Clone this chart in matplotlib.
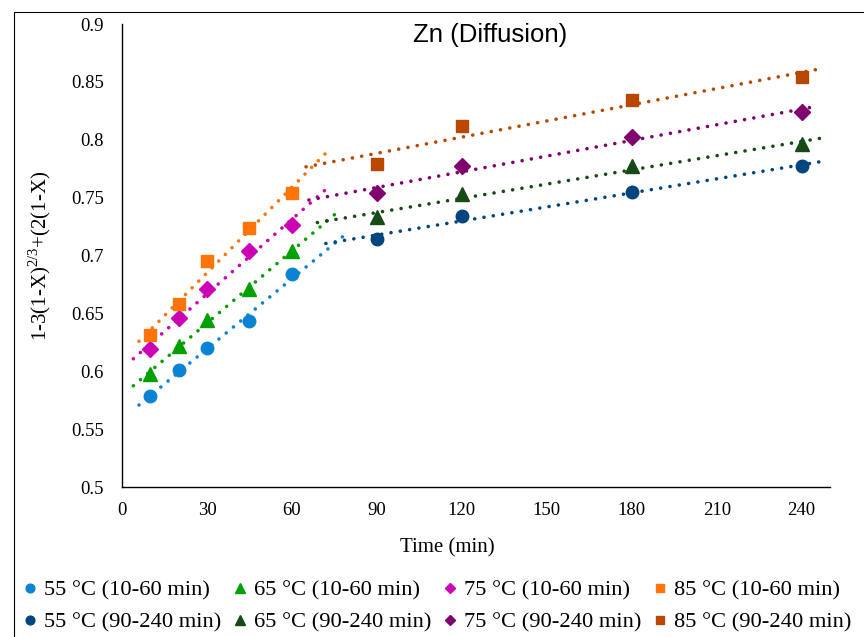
import numpy as np
import matplotlib
matplotlib.use("Agg")
import matplotlib.pyplot as plt
from matplotlib.patches import Rectangle
from matplotlib.ticker import FormatStrFormatter

# data
t_early = [10, 20, 30, 45, 60]
t_late = [90, 120, 180, 240]

y55_early = [0.579, 0.601, 0.620, 0.643, 0.684]
y65_early = [0.598, 0.622, 0.644, 0.671, 0.704]
y75_early = [0.619, 0.646, 0.671, 0.704, 0.726]
y85_early = [0.631, 0.658, 0.695, 0.724, 0.754]

y55_late = [0.714, 0.734, 0.755, 0.777]
y65_late = [0.733, 0.753, 0.777, 0.796]
y75_late = [0.754, 0.777, 0.802, 0.824]
y85_late = [0.779, 0.812, 0.834, 0.854]

temps = ["55", "65", "75", "85"]
markers = ["o", "^", "D", "s"]
msizes = [9, 10, 8, 8.5]
col_early = ["#0A84D2", "#00A000", "#CC00B4", "#FF7408"]
col_late = ["#00457F", "#174A17", "#80006E", "#B84800"]
# trendline extents (forecast) for each fit
ext_early = [(6, 78), (4, 75), (4, 72), (6, 72)]
ext_late = [(72, 247), (69, 247), (66, 246), (65, 245)]

early = [y55_early, y65_early, y75_early, y85_early]
late = [y55_late, y65_late, y75_late, y85_late]

plt.rcParams['font.family'] = ['Liberation Serif', 'DejaVu Serif']
plt.rcParams['mathtext.fontset'] = 'custom'
plt.rcParams['mathtext.rm'] = 'Liberation Serif'

fig = plt.figure(figsize=(8.64, 6.37), dpi=100)
ax = fig.add_axes([122/864, 1-487/637, (830-122)/864, (487-24)/637])

def trend(x, y, ext, color):
    k, b = np.polyfit(x, y, 1)
    xx = np.array(ext, dtype=float)
    ax.plot(xx, k*xx + b, color=color, lw=2.6, dashes=(0.01, 2.6),
            dash_capstyle='round', zorder=2)

handles = []
for i in range(4):
    trend(t_early, early[i], ext_early[i], col_early[i])
    trend(t_late, late[i], ext_late[i], col_late[i])
for i in range(4):
    h1, = ax.plot(t_early, early[i], ls='none', marker=markers[i], ms=msizes[i],
                  color=col_early[i], label=temps[i] + " °C (10-60 min)", zorder=3)
    h2, = ax.plot(t_late, late[i], ls='none', marker=markers[i], ms=msizes[i],
                  color=col_late[i], label=temps[i] + " °C (90-240 min)", zorder=3)
    handles += [h1, h2]

ax.set_xlim(0, 250)
ax.set_ylim(0.5, 0.9)
ax.set_xticks(np.arange(0, 241, 30))
ax.set_yticks(np.arange(0.5, 0.901, 0.05))
ax.yaxis.set_major_formatter(FormatStrFormatter('%g'))
ax.tick_params(length=0, labelsize=13.5)
ax.tick_params(axis='y', pad=13)
ax.tick_params(axis='x', pad=11)
for s in ['top', 'right']:
    ax.spines[s].set_visible(False)
ax.spines['left'].set_linewidth(1.0)
ax.spines['bottom'].set_linewidth(1.0)

ax.set_xlabel("Time (min)", fontsize=15)
ax.xaxis.set_label_coords(0.459, -0.11)
ax.set_ylabel("1-3(1-X)$^{\\mathrm{2/3}}$+(2(1-X)", fontsize=15)
ax.yaxis.set_label_coords(-0.098, 0.5)

fig.text(490/864, 1-35/637, "Zn (Diffusion)", ha='center', va='center',
         fontsize=18.5, family=['Liberation Sans', 'DejaVu Sans'])

fig.legend(handles=handles, ncol=4, loc='center', bbox_to_anchor=(438/864, 1-606/637),
           frameon=False, fontsize=16.2, markerscale=0.7, handlelength=0.5,
           handletextpad=0.35, columnspacing=0.6, labelspacing=0.5)

fig.add_artist(Rectangle((14/864, -0.1), 1.2, 1-12/637+0.1, transform=fig.transFigure,
                         fill=False, ec='black', lw=0.8))

fig.savefig("out.png", dpi=100)
